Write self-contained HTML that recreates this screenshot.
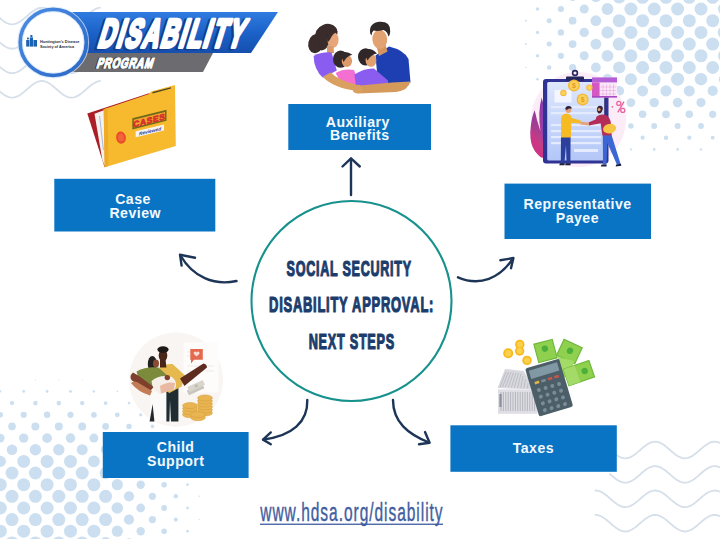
<!DOCTYPE html>
<html><head><meta charset="utf-8"><title>Disability Program - Next Steps</title>
<style>
html,body{margin:0;padding:0;background:#fff;}
body{width:720px;height:539px;overflow:hidden;font-family:"Liberation Sans",sans-serif;}
svg{display:block}
</style></head><body>
<svg width="720" height="539" viewBox="0 0 720 539">
<rect width="720" height="539" fill="#ffffff"/>
<g fill="none" stroke="#d6dfea" stroke-width="1.8" stroke-linecap="round">
<path d="M-2.0 16.5 L0.0 18.3 L2.0 19.9 L4.0 21.4 L6.0 22.6 L8.0 23.5 L10.0 24.1 L12.0 24.3 L14.0 24.1 L16.0 23.6 L18.0 22.8 L20.0 21.6 L22.0 20.2 L24.0 18.6 L26.0 16.9 L28.0 15.1 L30.0 13.4 L32.0 11.8 L34.0 10.4 L36.0 9.2 L38.0 8.4 L40.0 7.9 L42.0 7.7 L44.0 7.9 L46.0 8.5 L48.0 9.4 L50.0 10.6 L52.0 12.1 L54.0 13.7 L56.0 15.5 L58.0 17.2 L60.0 18.9 L62.0 20.5 L64.0 21.9 L66.0 23.0 L68.0 23.8 L70.0 24.2 L72.0 24.3 L74.0 24.0 L76.0 23.3 L78.0 22.3 L80.0 21.1 L82.0 19.6 L84.0 17.9 L86.0 16.2 L88.0 14.4 L90.0 12.7 L92.0 11.2 L94.0 9.9 L96.0 8.8 L98.0 8.1 L100.0 7.7"/>
<path d="M-2.0 40.9 L0.0 42.7 L2.0 44.3 L4.0 45.8 L6.0 47.0 L8.0 47.9 L10.0 48.5 L12.0 48.7 L14.0 48.5 L16.0 48.0 L18.0 47.2 L20.0 46.0 L22.0 44.6 L24.0 43.0 L26.0 41.3 L28.0 39.5 L30.0 37.8 L32.0 36.2 L34.0 34.8 L36.0 33.6 L38.0 32.8 L40.0 32.3 L42.0 32.1 L44.0 32.3 L46.0 32.9 L48.0 33.8 L50.0 35.0 L52.0 36.5 L54.0 38.1 L56.0 39.9 L58.0 41.6 L60.0 43.3 L62.0 44.9 L64.0 46.3 L66.0 47.4 L68.0 48.2 L70.0 48.6 L72.0 48.7 L74.0 48.4 L76.0 47.7 L78.0 46.7 L80.0 45.5 L82.0 44.0 L84.0 42.3 L86.0 40.6 L88.0 38.8 L90.0 37.1 L92.0 35.6 L94.0 34.3 L96.0 33.2 L98.0 32.5 L100.0 32.1"/>
<path d="M-2.0 65.4 L0.0 67.2 L2.0 68.8 L4.0 70.3 L6.0 71.5 L8.0 72.4 L10.0 73.0 L12.0 73.2 L14.0 73.0 L16.0 72.5 L18.0 71.7 L20.0 70.5 L22.0 69.1 L24.0 67.5 L26.0 65.8 L28.0 64.0 L30.0 62.3 L32.0 60.7 L34.0 59.3 L36.0 58.1 L38.0 57.3 L40.0 56.8 L42.0 56.6 L44.0 56.8 L46.0 57.4 L48.0 58.3 L50.0 59.5 L52.0 61.0 L54.0 62.6 L56.0 64.4 L58.0 66.1 L60.0 67.8 L62.0 69.4 L64.0 70.8 L66.0 71.9 L68.0 72.7 L70.0 73.1 L72.0 73.2 L74.0 72.9 L76.0 72.2 L78.0 71.2 L80.0 70.0 L82.0 68.5 L84.0 66.8 L86.0 65.1 L88.0 63.3 L90.0 61.6 L92.0 60.1 L94.0 58.8 L96.0 57.7 L98.0 57.0 L100.0 56.6"/>
<path d="M-2.0 89.8 L0.0 91.6 L2.0 93.2 L4.0 94.7 L6.0 95.9 L8.0 96.8 L10.0 97.4 L12.0 97.6 L14.0 97.4 L16.0 96.9 L18.0 96.1 L20.0 94.9 L22.0 93.5 L24.0 91.9 L26.0 90.2 L28.0 88.4 L30.0 86.7 L32.0 85.1 L34.0 83.7 L36.0 82.5 L38.0 81.7 L40.0 81.2 L42.0 81.0 L44.0 81.2 L46.0 81.8 L48.0 82.7 L50.0 83.9 L52.0 85.4 L54.0 87.0 L56.0 88.8 L58.0 90.5 L60.0 92.2 L62.0 93.8 L64.0 95.2 L66.0 96.3 L68.0 97.1 L70.0 97.5 L72.0 97.6 L74.0 97.3 L76.0 96.6 L78.0 95.6 L80.0 94.4 L82.0 92.9 L84.0 91.2 L86.0 89.5 L88.0 87.7 L90.0 86.0 L92.0 84.5 L94.0 83.2 L96.0 82.1 L98.0 81.4 L100.0 81.0"/>
<path d="M616.0 454.6 L618.0 456.0 L620.0 457.0 L622.0 457.8 L624.0 458.2 L626.0 458.3 L628.0 458.0 L630.0 457.3 L632.0 456.3 L634.0 455.0 L636.0 453.6 L638.0 451.9 L640.0 450.2 L642.0 448.4 L644.0 446.8 L646.0 445.2 L648.0 443.9 L650.0 442.9 L652.0 442.1 L654.0 441.8 L656.0 441.7 L658.0 442.1 L660.0 442.8 L662.0 443.8 L664.0 445.1 L666.0 446.6 L668.0 448.3 L670.0 450.0 L672.0 451.7 L674.0 453.4 L676.0 454.9 L678.0 456.2 L680.0 457.2 L682.0 457.9 L684.0 458.3 L686.0 458.2 L688.0 457.9 L690.0 457.1 L692.0 456.1 L694.0 454.8 L696.0 453.2 L698.0 451.6 L700.0 449.8 L702.0 448.1 L704.0 446.4 L706.0 445.0 L708.0 443.7 L710.0 442.7 L712.0 442.0 L714.0 441.7 L716.0 441.8 L718.0 442.2 L720.0 443.0 L722.0 444.0"/>
<path d="M610.0 474.1 L612.0 475.8 L614.0 477.5 L616.0 479.0 L618.0 480.4 L620.0 481.4 L622.0 482.2 L624.0 482.6 L626.0 482.7 L628.0 482.4 L630.0 481.7 L632.0 480.7 L634.0 479.4 L636.0 478.0 L638.0 476.3 L640.0 474.6 L642.0 472.8 L644.0 471.2 L646.0 469.6 L648.0 468.3 L650.0 467.3 L652.0 466.5 L654.0 466.2 L656.0 466.1 L658.0 466.5 L660.0 467.2 L662.0 468.2 L664.0 469.5 L666.0 471.0 L668.0 472.7 L670.0 474.4 L672.0 476.1 L674.0 477.8 L676.0 479.3 L678.0 480.6 L680.0 481.6 L682.0 482.3 L684.0 482.7 L686.0 482.6 L688.0 482.3 L690.0 481.5 L692.0 480.5 L694.0 479.2 L696.0 477.6 L698.0 476.0 L700.0 474.2 L702.0 472.5 L704.0 470.8 L706.0 469.4 L708.0 468.1 L710.0 467.1 L712.0 466.4 L714.0 466.1 L716.0 466.2 L718.0 466.6 L720.0 467.4 L722.0 468.4"/>
<path d="M595.5 490.5 L597.5 490.7 L599.5 491.2 L601.5 492.1 L603.5 493.3 L605.5 494.7 L607.5 496.3 L609.5 498.0 L611.5 499.8 L613.5 501.5 L615.5 503.1 L617.5 504.4 L619.5 505.6 L621.5 506.4 L623.5 507.0 L625.5 507.1 L627.5 506.9 L629.5 506.3 L631.5 505.4 L633.5 504.2 L635.5 502.7 L637.5 501.1 L639.5 499.4 L641.5 497.7 L643.5 496.0 L645.5 494.4 L647.5 493.0 L649.5 491.9 L651.5 491.1 L653.5 490.6 L655.5 490.5 L657.5 490.8 L659.5 491.4 L661.5 492.3 L663.5 493.5 L665.5 495.0 L667.5 496.6 L669.5 498.4 L671.5 500.1 L673.5 501.8 L675.5 503.3 L677.5 504.7 L679.5 505.8 L681.5 506.6 L683.5 507.0 L685.5 507.1 L687.5 506.8 L689.5 506.1 L691.5 505.2 L693.5 503.9 L695.5 502.4 L697.5 500.8 L699.5 499.1 L701.5 497.3 L703.5 495.6 L705.5 494.1 L707.5 492.8 L709.5 491.7 L711.5 491.0 L713.5 490.6 L715.5 490.5 L717.5 490.9 L719.5 491.5 L721.5 492.5"/>
<path d="M595.5 514.9 L597.5 515.1 L599.5 515.6 L601.5 516.5 L603.5 517.7 L605.5 519.1 L607.5 520.7 L609.5 522.4 L611.5 524.2 L613.5 525.9 L615.5 527.5 L617.5 528.8 L619.5 530.0 L621.5 530.8 L623.5 531.4 L625.5 531.5 L627.5 531.3 L629.5 530.7 L631.5 529.8 L633.5 528.6 L635.5 527.1 L637.5 525.5 L639.5 523.8 L641.5 522.1 L643.5 520.4 L645.5 518.8 L647.5 517.4 L649.5 516.3 L651.5 515.5 L653.5 515.0 L655.5 514.9 L657.5 515.2 L659.5 515.8 L661.5 516.7 L663.5 517.9 L665.5 519.4 L667.5 521.0 L669.5 522.8 L671.5 524.5 L673.5 526.2 L675.5 527.7 L677.5 529.1 L679.5 530.2 L681.5 531.0 L683.5 531.4 L685.5 531.5 L687.5 531.2 L689.5 530.5 L691.5 529.6 L693.5 528.3 L695.5 526.8 L697.5 525.2 L699.5 523.5 L701.5 521.7 L703.5 520.0 L705.5 518.5 L707.5 517.2 L709.5 516.1 L711.5 515.4 L713.5 515.0 L715.5 514.9 L717.5 515.3 L719.5 515.9 L721.5 516.9"/>
</g>
<g fill="#cbdff0">
<circle cx="525.9" cy="-2.7" r="0.8"/>
<circle cx="549.2" cy="-2.7" r="2.2"/>
<circle cx="572.6" cy="-2.7" r="3.6"/>
<circle cx="595.9" cy="-2.7" r="5.0"/>
<circle cx="619.2" cy="-2.7" r="6.2"/>
<circle cx="642.6" cy="-2.7" r="6.5"/>
<circle cx="666.0" cy="-2.7" r="6.5"/>
<circle cx="689.3" cy="-2.7" r="6.5"/>
<circle cx="712.7" cy="-2.7" r="6.5"/>
<circle cx="537.5" cy="9.0" r="1.7"/>
<circle cx="560.9" cy="9.0" r="3.1"/>
<circle cx="584.2" cy="9.0" r="4.5"/>
<circle cx="607.5" cy="9.0" r="5.9"/>
<circle cx="630.9" cy="9.0" r="6.5"/>
<circle cx="654.2" cy="9.0" r="6.5"/>
<circle cx="677.6" cy="9.0" r="6.5"/>
<circle cx="701.0" cy="9.0" r="6.5"/>
<circle cx="724.3" cy="9.0" r="6.3"/>
<circle cx="525.9" cy="20.7" r="1.0"/>
<circle cx="549.2" cy="20.7" r="2.5"/>
<circle cx="572.6" cy="20.7" r="3.9"/>
<circle cx="595.9" cy="20.7" r="5.4"/>
<circle cx="619.2" cy="20.7" r="6.5"/>
<circle cx="642.6" cy="20.7" r="6.5"/>
<circle cx="666.0" cy="20.7" r="6.5"/>
<circle cx="689.3" cy="20.7" r="6.5"/>
<circle cx="712.7" cy="20.7" r="6.5"/>
<circle cx="537.5" cy="32.4" r="1.7"/>
<circle cx="560.9" cy="32.4" r="3.2"/>
<circle cx="584.2" cy="32.4" r="4.7"/>
<circle cx="607.5" cy="32.4" r="6.1"/>
<circle cx="630.9" cy="32.4" r="6.5"/>
<circle cx="654.2" cy="32.4" r="6.5"/>
<circle cx="677.6" cy="32.4" r="6.5"/>
<circle cx="701.0" cy="32.4" r="6.5"/>
<circle cx="724.3" cy="32.4" r="6.5"/>
<circle cx="525.9" cy="44.1" r="1.0"/>
<circle cx="549.2" cy="44.1" r="2.5"/>
<circle cx="572.6" cy="44.1" r="3.9"/>
<circle cx="595.9" cy="44.1" r="5.4"/>
<circle cx="619.2" cy="44.1" r="6.5"/>
<circle cx="642.6" cy="44.1" r="6.5"/>
<circle cx="666.0" cy="44.1" r="6.5"/>
<circle cx="689.3" cy="44.1" r="6.5"/>
<circle cx="712.7" cy="44.1" r="6.5"/>
<circle cx="537.5" cy="55.8" r="1.7"/>
<circle cx="560.9" cy="55.8" r="3.1"/>
<circle cx="584.2" cy="55.8" r="4.5"/>
<circle cx="607.5" cy="55.8" r="5.9"/>
<circle cx="630.9" cy="55.8" r="6.5"/>
<circle cx="654.2" cy="55.8" r="6.5"/>
<circle cx="677.6" cy="55.8" r="6.5"/>
<circle cx="701.0" cy="55.8" r="6.5"/>
<circle cx="724.3" cy="55.8" r="6.3"/>
<circle cx="525.9" cy="67.5" r="0.8"/>
<circle cx="549.2" cy="67.5" r="2.2"/>
<circle cx="572.6" cy="67.5" r="3.6"/>
<circle cx="595.9" cy="67.5" r="4.9"/>
<circle cx="619.2" cy="67.5" r="6.1"/>
<circle cx="642.6" cy="67.5" r="6.5"/>
<circle cx="666.0" cy="67.5" r="6.5"/>
<circle cx="689.3" cy="67.5" r="6.5"/>
<circle cx="712.7" cy="67.5" r="6.4"/>
<circle cx="537.5" cy="79.2" r="1.3"/>
<circle cx="560.9" cy="79.2" r="2.7"/>
<circle cx="584.2" cy="79.2" r="3.9"/>
<circle cx="607.5" cy="79.2" r="5.1"/>
<circle cx="630.9" cy="79.2" r="6.0"/>
<circle cx="654.2" cy="79.2" r="6.4"/>
<circle cx="677.6" cy="79.2" r="6.5"/>
<circle cx="701.0" cy="79.2" r="6.2"/>
<circle cx="724.3" cy="79.2" r="5.4"/>
<circle cx="549.2" cy="90.9" r="1.7"/>
<circle cx="572.6" cy="90.9" r="2.9"/>
<circle cx="595.9" cy="90.9" r="4.0"/>
<circle cx="619.2" cy="90.9" r="4.9"/>
<circle cx="642.6" cy="90.9" r="5.5"/>
<circle cx="666.0" cy="90.9" r="5.6"/>
<circle cx="689.3" cy="90.9" r="5.5"/>
<circle cx="712.7" cy="90.9" r="5.1"/>
<circle cx="537.5" cy="102.6" r="0.7"/>
<circle cx="560.9" cy="102.6" r="1.9"/>
<circle cx="584.2" cy="102.6" r="3.0"/>
<circle cx="607.5" cy="102.6" r="3.8"/>
<circle cx="630.9" cy="102.6" r="4.4"/>
<circle cx="654.2" cy="102.6" r="4.7"/>
<circle cx="677.6" cy="102.6" r="4.8"/>
<circle cx="701.0" cy="102.6" r="4.6"/>
<circle cx="724.3" cy="102.6" r="4.1"/>
<circle cx="549.2" cy="114.3" r="0.8"/>
<circle cx="572.6" cy="114.3" r="1.9"/>
<circle cx="595.9" cy="114.3" r="2.8"/>
<circle cx="619.2" cy="114.3" r="3.4"/>
<circle cx="642.6" cy="114.3" r="3.8"/>
<circle cx="666.0" cy="114.3" r="3.9"/>
<circle cx="689.3" cy="114.3" r="3.8"/>
<circle cx="712.7" cy="114.3" r="3.6"/>
<circle cx="560.9" cy="126.0" r="0.8"/>
<circle cx="584.2" cy="126.0" r="1.7"/>
<circle cx="607.5" cy="126.0" r="2.4"/>
<circle cx="630.9" cy="126.0" r="2.8"/>
<circle cx="654.2" cy="126.0" r="3.0"/>
<circle cx="677.6" cy="126.0" r="3.0"/>
<circle cx="701.0" cy="126.0" r="2.9"/>
<circle cx="724.3" cy="126.0" r="2.5"/>
<circle cx="572.6" cy="137.7" r="0.6"/>
<circle cx="595.9" cy="137.7" r="1.3"/>
<circle cx="619.2" cy="137.7" r="1.8"/>
<circle cx="642.6" cy="137.7" r="2.1"/>
<circle cx="666.0" cy="137.7" r="2.2"/>
<circle cx="689.3" cy="137.7" r="2.1"/>
<circle cx="712.7" cy="137.7" r="1.9"/>
<circle cx="607.5" cy="149.4" r="0.8"/>
<circle cx="630.9" cy="149.4" r="1.1"/>
<circle cx="654.2" cy="149.4" r="1.3"/>
<circle cx="677.6" cy="149.4" r="1.3"/>
<circle cx="701.0" cy="149.4" r="1.2"/>
<circle cx="724.3" cy="149.4" r="0.9"/>
<circle cx="35.4" cy="379.8" r="0.6"/>
<circle cx="58.8" cy="379.8" r="0.6"/>
<circle cx="82.2" cy="379.8" r="0.5"/>
<circle cx="-23.1" cy="391.4" r="0.7"/>
<circle cx="0.3" cy="391.4" r="1.1"/>
<circle cx="23.7" cy="391.4" r="1.4"/>
<circle cx="47.1" cy="391.4" r="1.4"/>
<circle cx="70.5" cy="391.4" r="1.4"/>
<circle cx="93.9" cy="391.4" r="1.2"/>
<circle cx="117.3" cy="391.4" r="0.8"/>
<circle cx="-11.4" cy="403.1" r="1.7"/>
<circle cx="12.0" cy="403.1" r="2.1"/>
<circle cx="35.4" cy="403.1" r="2.3"/>
<circle cx="58.8" cy="403.1" r="2.3"/>
<circle cx="82.2" cy="403.1" r="2.2"/>
<circle cx="105.6" cy="403.1" r="1.9"/>
<circle cx="129.0" cy="403.1" r="1.3"/>
<circle cx="152.4" cy="403.1" r="0.6"/>
<circle cx="-23.1" cy="414.8" r="2.2"/>
<circle cx="0.3" cy="414.8" r="2.7"/>
<circle cx="23.7" cy="414.8" r="3.1"/>
<circle cx="47.1" cy="414.8" r="3.2"/>
<circle cx="70.5" cy="414.8" r="3.1"/>
<circle cx="93.9" cy="414.8" r="2.9"/>
<circle cx="117.3" cy="414.8" r="2.4"/>
<circle cx="140.7" cy="414.8" r="1.6"/>
<circle cx="164.1" cy="414.8" r="0.7"/>
<circle cx="-11.4" cy="426.4" r="3.2"/>
<circle cx="12.0" cy="426.4" r="3.8"/>
<circle cx="35.4" cy="426.4" r="4.0"/>
<circle cx="58.8" cy="426.4" r="4.0"/>
<circle cx="82.2" cy="426.4" r="3.9"/>
<circle cx="105.6" cy="426.4" r="3.4"/>
<circle cx="129.0" cy="426.4" r="2.7"/>
<circle cx="152.4" cy="426.4" r="1.8"/>
<circle cx="175.8" cy="426.4" r="0.7"/>
<circle cx="-23.1" cy="438.1" r="3.5"/>
<circle cx="0.3" cy="438.1" r="4.3"/>
<circle cx="23.7" cy="438.1" r="4.7"/>
<circle cx="47.1" cy="438.1" r="4.9"/>
<circle cx="70.5" cy="438.1" r="4.8"/>
<circle cx="93.9" cy="438.1" r="4.5"/>
<circle cx="117.3" cy="438.1" r="3.8"/>
<circle cx="140.7" cy="438.1" r="2.8"/>
<circle cx="164.1" cy="438.1" r="1.7"/>
<circle cx="187.5" cy="438.1" r="0.5"/>
<circle cx="-11.4" cy="449.7" r="4.6"/>
<circle cx="12.0" cy="449.7" r="5.3"/>
<circle cx="35.4" cy="449.7" r="5.7"/>
<circle cx="58.8" cy="449.7" r="5.7"/>
<circle cx="82.2" cy="449.7" r="5.5"/>
<circle cx="105.6" cy="449.7" r="4.8"/>
<circle cx="129.0" cy="449.7" r="3.9"/>
<circle cx="152.4" cy="449.7" r="2.7"/>
<circle cx="175.8" cy="449.7" r="1.5"/>
<circle cx="-23.1" cy="461.4" r="4.6"/>
<circle cx="0.3" cy="461.4" r="5.6"/>
<circle cx="23.7" cy="461.4" r="6.4"/>
<circle cx="47.1" cy="461.4" r="6.5"/>
<circle cx="70.5" cy="461.4" r="6.5"/>
<circle cx="93.9" cy="461.4" r="5.9"/>
<circle cx="117.3" cy="461.4" r="4.9"/>
<circle cx="140.7" cy="461.4" r="3.7"/>
<circle cx="164.1" cy="461.4" r="2.4"/>
<circle cx="187.5" cy="461.4" r="1.1"/>
<circle cx="-11.4" cy="473.0" r="5.6"/>
<circle cx="12.0" cy="473.0" r="6.5"/>
<circle cx="35.4" cy="473.0" r="6.5"/>
<circle cx="58.8" cy="473.0" r="6.5"/>
<circle cx="82.2" cy="473.0" r="6.5"/>
<circle cx="105.6" cy="473.0" r="6.0"/>
<circle cx="129.0" cy="473.0" r="4.7"/>
<circle cx="152.4" cy="473.0" r="3.4"/>
<circle cx="175.8" cy="473.0" r="2.0"/>
<circle cx="199.2" cy="473.0" r="0.5"/>
<circle cx="-23.1" cy="484.7" r="5.2"/>
<circle cx="0.3" cy="484.7" r="6.5"/>
<circle cx="23.7" cy="484.7" r="6.5"/>
<circle cx="47.1" cy="484.7" r="6.5"/>
<circle cx="70.5" cy="484.7" r="6.5"/>
<circle cx="93.9" cy="484.7" r="6.5"/>
<circle cx="117.3" cy="484.7" r="5.6"/>
<circle cx="140.7" cy="484.7" r="4.2"/>
<circle cx="164.1" cy="484.7" r="2.8"/>
<circle cx="187.5" cy="484.7" r="1.4"/>
<circle cx="-11.4" cy="496.3" r="6.1"/>
<circle cx="12.0" cy="496.3" r="6.5"/>
<circle cx="35.4" cy="496.3" r="6.5"/>
<circle cx="58.8" cy="496.3" r="6.5"/>
<circle cx="82.2" cy="496.3" r="6.5"/>
<circle cx="105.6" cy="496.3" r="6.5"/>
<circle cx="129.0" cy="496.3" r="5.1"/>
<circle cx="152.4" cy="496.3" r="3.6"/>
<circle cx="175.8" cy="496.3" r="2.2"/>
<circle cx="199.2" cy="496.3" r="0.7"/>
<circle cx="-23.1" cy="508.0" r="5.4"/>
<circle cx="0.3" cy="508.0" r="6.5"/>
<circle cx="23.7" cy="508.0" r="6.5"/>
<circle cx="47.1" cy="508.0" r="6.5"/>
<circle cx="70.5" cy="508.0" r="6.5"/>
<circle cx="93.9" cy="508.0" r="6.5"/>
<circle cx="117.3" cy="508.0" r="5.8"/>
<circle cx="140.7" cy="508.0" r="4.4"/>
<circle cx="164.1" cy="508.0" r="2.9"/>
<circle cx="187.5" cy="508.0" r="1.4"/>
<circle cx="-11.4" cy="519.6" r="6.1"/>
<circle cx="12.0" cy="519.6" r="6.5"/>
<circle cx="35.4" cy="519.6" r="6.5"/>
<circle cx="58.8" cy="519.6" r="6.5"/>
<circle cx="82.2" cy="519.6" r="6.5"/>
<circle cx="105.6" cy="519.6" r="6.5"/>
<circle cx="129.0" cy="519.6" r="5.1"/>
<circle cx="152.4" cy="519.6" r="3.6"/>
<circle cx="175.8" cy="519.6" r="2.1"/>
<circle cx="199.2" cy="519.6" r="0.7"/>
<circle cx="-23.1" cy="531.2" r="5.2"/>
<circle cx="0.3" cy="531.2" r="6.5"/>
<circle cx="23.7" cy="531.2" r="6.5"/>
<circle cx="47.1" cy="531.2" r="6.5"/>
<circle cx="70.5" cy="531.2" r="6.5"/>
<circle cx="93.9" cy="531.2" r="6.5"/>
<circle cx="117.3" cy="531.2" r="5.6"/>
<circle cx="140.7" cy="531.2" r="4.2"/>
<circle cx="164.1" cy="531.2" r="2.8"/>
<circle cx="187.5" cy="531.2" r="1.4"/>
<circle cx="-11.4" cy="542.9" r="5.5"/>
<circle cx="12.0" cy="542.9" r="6.5"/>
<circle cx="35.4" cy="542.9" r="6.5"/>
<circle cx="58.8" cy="542.9" r="6.5"/>
<circle cx="82.2" cy="542.9" r="6.5"/>
<circle cx="105.6" cy="542.9" r="5.9"/>
<circle cx="129.0" cy="542.9" r="4.7"/>
<circle cx="152.4" cy="542.9" r="3.3"/>
<circle cx="175.8" cy="542.9" r="1.9"/>
<circle cx="199.2" cy="542.9" r="0.5"/>
</g>
<!-- ===== header banner ===== -->
<defs>
  <linearGradient id="banG" x1="0" y1="0" x2="0" y2="1">
    <stop offset="0" stop-color="#2f7be0"/><stop offset="0.55" stop-color="#1a60c6"/><stop offset="1" stop-color="#164fae"/>
  </linearGradient>
  <linearGradient id="ringG" x1="0" y1="0" x2="1" y2="1">
    <stop offset="0" stop-color="#4a8ce2"/><stop offset="1" stop-color="#2a68c8"/>
  </linearGradient>
</defs>
<polygon points="60,12 278,12 251,53 60,53" fill="url(#banG)"/>
<polygon points="60,53 213,53 203,72 60,72" fill="#6b6b70"/>
<g font-family="Liberation Sans, sans-serif" font-weight="bold" stroke-linejoin="round">
  <g transform="translate(96.8 46.6) skewX(-17) scale(0.578 1)" font-size="39.5" letter-spacing="3.4">
    <text x="-3" y="1.8" fill="#143c8c" stroke="#143c8c" stroke-width="3.8" vector-effect="non-scaling-stroke">DISABILITY</text>
    <text x="0" y="0" fill="#fff" stroke="#fff" stroke-width="3.4" vector-effect="non-scaling-stroke">DISABILITY</text>
  </g>
  <g transform="translate(96 67.6) skewX(-17) scale(0.69 1)" font-size="14.4" letter-spacing="1">
    <text x="-1.2" y="0.8" fill="#3a3a3e" stroke="#3a3a3e" stroke-width="1.5" vector-effect="non-scaling-stroke">PROGRAM</text>
    <text x="0" y="0" fill="#fff" stroke="#fff" stroke-width="1.2" vector-effect="non-scaling-stroke">PROGRAM</text>
  </g>
</g>
<circle cx="53.2" cy="42.4" r="35.3" fill="none" stroke="#d5e4f6" stroke-width="1.4" opacity="0.7"/>
<circle cx="53.2" cy="42.4" r="33" fill="#fff" stroke="url(#ringG)" stroke-width="3.7"/>
<circle cx="53.2" cy="42.4" r="30.8" fill="none" stroke="#a8cbf2" stroke-width="0.8" opacity="0.6"/>
<!-- logo -->
<g fill="#1b62b3">
  <rect x="26.2" y="40" width="3.2" height="6.6"/>
  <rect x="29.8" y="37.4" width="3.2" height="9.2"/>
  <rect x="33.4" y="40" width="3.6" height="6.6"/>
  <rect x="30.4" y="35" width="2" height="2"/>
  <rect x="27" y="37.6" width="1.8" height="1.8"/>
</g>
<g font-family="Liberation Sans, sans-serif" font-weight="bold" fill="#2a2a33" font-size="4.3">
  <text x="40" y="43.2" textLength="39.5" lengthAdjust="spacingAndGlyphs">Huntington's Disease</text>
  <text x="40" y="47.8" textLength="34" lengthAdjust="spacingAndGlyphs">Society of America</text>
</g>

<!-- ===== Case Review: folder ===== -->
<g>
  <polygon points="87.3,113.6 149,93.2 151,94.4 104.6,167.2" fill="#ab1d27"/>
  <polygon points="94.5,113.8 104.5,110 105,166 102.4,160.5" fill="#f4f1ee"/>
  <path d="M99.6 116 L103.4 150" stroke="#8aa0d8" stroke-width="0.7" fill="none"/>
  <polygon points="103.7,109.2 149.2,94 151,91.4 175,85 175.8,146 104.7,167.2" fill="#f7ba2f"/>
  <polygon points="103.7,109.2 107.6,107.9 108.4,166.1 104.7,167.2" fill="#eeab28"/>
  <!-- tab text -->
  <polygon points="152.5,92 171,87.2 171,88.6 152.5,93.4" fill="#4a4326"/>
  <!-- CASES label -->
  <polygon points="132.3,118.3 166.5,109.7 166.5,120.8 132.3,129.4" fill="#6f6a1c"/>
  <polygon points="133.8,119.8 165,112 165,119.6 133.8,127.4" fill="#f5a22c"/>
  <g transform="translate(149.4 123) skewY(-14.1)" font-family="Liberation Sans, sans-serif" font-weight="bold" font-size="8.4" fill="#d3312b" stroke="#d3312b" stroke-width="0.7" text-anchor="middle">
    <text y="0.3" transform="scale(1.0 1)" letter-spacing="0.7">CASES</text>
  </g>
  <!-- reviewed label -->
  <polygon points="135.7,131.3 164,124.6 164,130.6 135.7,137.3" fill="#f7f4f0"/>
  <g transform="translate(150 132.8) skewY(-13.3)" font-family="Liberation Sans, sans-serif" font-weight="bold" font-style="italic" font-size="4.8" fill="#2b3a9c" text-anchor="middle">
    <text>Reviewed</text>
  </g>
  <ellipse cx="121" cy="137.6" rx="4.9" ry="6.1" fill="#ea4b2a" transform="rotate(-10 121 137.6)"/>
  <ellipse cx="121" cy="137.6" rx="3" ry="4" fill="#f0653a" transform="rotate(-10 121 137.6)"/>
</g>

<!-- ===== Auxiliary Benefits: family ===== -->
<g>
  <!-- father -->
  <path d="M375.5 55.5 L389 46.5 Q404 50 408.5 59 L410.5 82.5 L388 86 L377 72 Z" fill="#1d3fb2"/>
  <path d="M376.5 46 L385.5 45 L387.5 51.5 L379 56 Z" fill="#d6955f"/>
  <ellipse cx="379.8" cy="39.4" rx="7.4" ry="9.6" fill="#e2a271" transform="rotate(-6 379.8 39.4)"/>
  <path d="M370.2 33.5 Q368.5 23.5 379 21.8 Q390.5 21 390.2 31 Q390 35.5 388.4 36.6 Q387.6 31.5 383.5 30 Q377 31.8 373.6 30.6 Q371.6 32 371.6 35.6 Z" fill="#2f2928"/>
  <!-- mother -->
  <ellipse cx="315.8" cy="43.6" rx="7.5" ry="9.6" fill="#3a2c2b" transform="rotate(12 315.8 43.6)"/>
  <ellipse cx="326.4" cy="33.6" rx="11.4" ry="9.4" fill="#3a2c2b" transform="rotate(-22 326.4 33.6)"/>
  <path d="M318 38 L329 36 L328.6 45 Q326 50 321 50.6 Z" fill="#3a2c2b"/>
  <ellipse cx="333" cy="39.8" rx="5.6" ry="8" fill="#e7a579"/>
  <path d="M326 31.6 Q332 29.6 338 31.2 Q333.6 33.2 331.6 36.6 Q329.6 41 327.6 42.6 Z" fill="#3a2c2b"/>
  <path d="M327 45.6 L333.6 46.6 L334 53 L327 54 Z" fill="#dc9a6c"/>
  <path d="M313.6 56 Q320 52 331.6 52.4 L336.8 70.4 L323 77.8 Q314 70 313.6 56 Z" fill="#8b5cf0"/>
  <!-- kids' shirts (extended down to the arms) -->
  <path d="M335.6 73 Q344 68.4 354 70 L360 86 L343 86.6 Z" fill="#f46fd2"/>
  <path d="M354.4 74.4 Q364 68 374 68.4 L388 80.4 L388 86.4 L356 87 Z" fill="#8b5cf0"/>
  <!-- girl -->
  <ellipse cx="340.6" cy="59.2" rx="7.6" ry="8.6" fill="#33282a"/>
  <ellipse cx="346.9" cy="61" rx="5.2" ry="6" fill="#dd9a6a"/>
  <path d="M340 53.5 Q346 50 352.4 54.8 Q346.4 56.4 343.6 62 Z" fill="#33282a"/>
  <!-- boy -->
  <ellipse cx="365.6" cy="56.8" rx="7.6" ry="8.6" fill="#2f2729"/>
  <ellipse cx="371" cy="60.4" rx="5.4" ry="6.4" fill="#e0a070"/>
  <path d="M362.6 51 Q370 46 377 53.4 Q371 54.4 367.6 60.4 Z" fill="#2f2729"/>
  <!-- arms -->
  <path d="M322.6 76.8 L330.8 72.4 Q338 80 356 84.6 L356.6 90.8 Q334 88.4 322.6 76.8 Z" fill="#d9a05f"/>
  <path d="M410.4 81.6 Q408.4 90.4 396 92 L358 93.6 Q352 93.2 353 88 Q354 84.4 360 85.4 L392 82.6 Z" fill="#d39a5c"/>
  <ellipse cx="357.6" cy="89" rx="5" ry="4.3" fill="#d9a05f"/>
</g>

<!-- ===== Representative Payee: clipboard ===== -->
<defs>
  <linearGradient id="clipG" x1="0" y1="0" x2="0" y2="1"><stop offset="0" stop-color="#dde7fd"/><stop offset="1" stop-color="#b3c6f7"/></linearGradient>
  <linearGradient id="leafG" x1="0" y1="0" x2="0" y2="1"><stop offset="0" stop-color="#7a3aa8"/><stop offset="1" stop-color="#d8407c"/></linearGradient>
</defs>
<g>
  <circle cx="578.5" cy="119.5" r="47.5" fill="#fcecf8"/>
  <path d="M545 158.5 Q527.5 152 530.8 126 Q532 116 534.7 110.3 Q536.6 120 540.4 131 Q537.6 112 541.7 97.6 Q548.6 122 547 158.5 Z" fill="url(#leafG)"/>
  <path d="M541 157.6 Q529.6 149 531 128.6 Q538.6 140 544.6 157.6 Z" fill="#cc3585"/>
  <path d="M541.9 101 Q540 125 544.4 152 Q546.4 125 541.9 101 Z" fill="#8d3fb4"/>
  <rect x="543" y="79" width="65.5" height="84.6" rx="3" fill="#2f3394"/>
  <rect x="547.2" y="82" width="58.6" height="78.6" rx="1.5" fill="url(#clipG)"/>
  <rect x="554.5" y="90" width="17" height="12.5" fill="#f4f6ff"/>
  <g fill="#e4ebff">
    <rect x="551" y="106" width="50" height="2.2"/><rect x="551" y="112" width="50" height="2.2"/>
    <rect x="551" y="124" width="50" height="2.2"/><rect x="551" y="130" width="50" height="2.2"/>
    <rect x="551" y="136" width="50" height="2.2"/><rect x="551" y="142" width="50" height="2.2"/>
    <rect x="574" y="149" width="24" height="3"/>
  </g>
  <!-- clip -->
  <rect x="566" y="76.5" width="18" height="4.2" rx="1" fill="#23265f"/>
  <circle cx="575" cy="73" r="2.4" fill="none" stroke="#23265f" stroke-width="1.6"/>
  <!-- calendar -->
  <rect x="604.2" y="96" width="1.8" height="20" fill="#3a2f6a"/>
  <rect x="592" y="77.4" width="25" height="20" fill="#fbeaf8"/>
  <rect x="592" y="77.4" width="25" height="5" fill="#b45fd6"/>
  <rect x="592" y="82.4" width="7.6" height="15" fill="#d457c4"/>
  <g stroke="#e9a6e0" stroke-width="0.6"><path d="M603 84 V96 M606.5 84 V96 M610 84 V96 M613.5 84 V96 M600 87 H616 M600 90.5 H616 M600 94 H616"/></g>
  <rect x="592" y="96" width="25" height="1.6" fill="#a64ac2"/>
  <!-- percent -->
  <g fill="none" stroke="#e8649c" stroke-width="1.3"><circle cx="618.8" cy="103.4" r="2"/><circle cx="622.8" cy="110.4" r="2"/><path d="M624 101.6 L617.8 112.4"/></g><circle cx="612.4" cy="106.8" r="0.9" fill="#e8649c"/>
  <!-- coins -->
  <g>
    <circle cx="574" cy="85.6" r="6" fill="#f3b73a"/><circle cx="574" cy="85.6" r="4.6" fill="#f9d25c"/>
    <circle cx="582.6" cy="99.4" r="6" fill="#f3b73a"/><circle cx="582.6" cy="99.4" r="4.6" fill="#f9d25c"/>
    <circle cx="563.4" cy="93" r="3.2" fill="#f3b73a"/><circle cx="563.4" cy="93" r="2.3" fill="#f9d25c"/>
    <circle cx="589.4" cy="87.6" r="3.2" fill="#f3b73a"/><circle cx="589.4" cy="87.6" r="2.3" fill="#f9d25c"/>
    <g font-family="Liberation Sans, sans-serif" font-weight="bold" font-size="7" fill="#e79a1f" text-anchor="middle"><text x="574" y="88.1">$</text><text x="582.6" y="101.9">$</text></g>
  </g>
  <!-- man left -->
  <path d="M561 136.6 L570.6 136.6 L570.4 163.4 L566.6 163.4 L566 145 L564.4 163.4 L560.8 163.4 Z" fill="#2b3f9e"/>
  <path d="M560 163.2 h4.6 v2 h-5.4 Z M565.8 163.2 h4.8 v2 h-5.6 Z" fill="#1d1f3f"/>
  <path d="M561.2 118 Q561.8 114 566.4 113.6 Q571 114 571.6 118 L580.8 120.6 L580.2 123.4 L571.4 122.8 L570.8 137.6 L561 137.6 Z" fill="#f6ba22"/>
  <circle cx="568.4" cy="110" r="2.9" fill="#e8a27a"/>
  <path d="M565.4 109.6 Q565 106.2 568.6 106 Q572 106.2 571.6 108.8 Q568.8 107.8 567.2 109.8 Z" fill="#2a2240"/>
  <!-- man right -->
  <path d="M602.8 134.6 L611.4 134.6 L620.6 164 L617 164.8 L607.4 143 L606.4 164.6 L603 164.6 Z" fill="#3c66d4"/>
  <path d="M601.6 164.4 h5 v2 h-5.8 Z M616.2 164.6 l4.6 -0.8 l0.6 2 l-5.8 0.8 Z" fill="#1d1f3f"/>
  <path d="M596.6 116.4 Q600.6 113.6 605 114.8 Q610.4 116.8 611 124 L611.6 135.6 L602.4 135.6 L600.6 123.2 L589 125.4 L588.4 122.6 L595.6 119.4 Z" fill="#b42c58"/>
  <path d="M580 121.4 L588.6 122.4 L589 125.4 L580.4 124.4 Z" fill="#e6a47c"/>
  <ellipse cx="609.6" cy="128.6" rx="6.6" ry="4.7" fill="#f7c544" transform="rotate(-12 609.6 128.6)"/>
  <circle cx="599.6" cy="109.8" r="2.8" fill="#e8a27a"/>
  <path d="M597 110 Q596.6 106 600 105.8 Q603.2 106 602.8 109 L601.8 111.6 Q601 113.8 598.6 113.4 Q597 112.6 597 110 Z" fill="#3a2334"/>
  <circle cx="599.1" cy="109.5" r="1.5" fill="#e8a27a"/>
</g>

<!-- ===== Child Support ===== -->
<g>
  <circle cx="176" cy="379.5" r="47" fill="#f9f5f2"/>
  <rect x="183.5" y="342.5" width="35" height="50" fill="#fdfcfb"/>
  <g stroke="#efe9e6" stroke-width="1"><path d="M187 352 H198 M187 356 H196 M187 366 H214 M187 371 H214"/></g>
  <!-- speech bubble -->
  <path d="M190.3 349 H202.8 V359.8 H194 L191 363.4 V359.8 H190.3 Z" fill="#e4694f"/>
  <path d="M196.6 356.6 L193.9 353.9 Q193 352.4 194.5 351.7 Q195.8 351.3 196.6 352.6 Q197.4 351.3 198.7 351.7 Q200.2 352.4 199.3 353.9 Z" fill="#f8ddd6"/>
  <!-- bills -->
  <g transform="rotate(-25 196 389)"><rect x="187" y="386.4" width="17" height="5.4" fill="#c9c7bd"/><rect x="189" y="383.6" width="17" height="5.4" fill="#d8d6cc"/><circle cx="197.5" cy="386.3" r="1.6" fill="#bdbbb0"/></g>
  <!-- coins -->
  <g fill="#e9b552" stroke="#d79f3c" stroke-width="0.6">
    <ellipse cx="190" cy="414.6" rx="7.4" ry="3"/><ellipse cx="190" cy="411.6" rx="7.4" ry="3"/><ellipse cx="190" cy="408.6" rx="7.4" ry="3"/><ellipse cx="190" cy="405.6" rx="7.4" ry="3"/>
    <ellipse cx="205" cy="413" rx="7.4" ry="3"/><ellipse cx="205" cy="410" rx="7.4" ry="3"/><ellipse cx="205" cy="407" rx="7.4" ry="3"/><ellipse cx="205" cy="404" rx="7.4" ry="3"/><ellipse cx="205" cy="401" rx="7.4" ry="3"/><ellipse cx="205" cy="398" rx="7.4" ry="3"/>
    <ellipse cx="198" cy="417.6" rx="7.4" ry="3"/><ellipse cx="198" cy="414.6" rx="7.4" ry="3"/>
  </g>
  <!-- legs -->
  <path d="M150.5 392 L166 392 L165.4 421.4 L149.4 421.4 Z" fill="#fbfaf8"/>
  <path d="M152.6 404 L154.4 421.4 L149.6 421.4 Z" fill="#23282c"/>
  <path d="M166.4 390 L178.4 388 L178.4 421.4 L171 421.4 L170 400 L169.4 421.4 L166.4 421.4 Z" fill="#1f2d33"/>
  <!-- man -->
  <path d="M159.4 367 Q165 363.6 172.6 364.1 L185 375.6 L181.6 386.4 L169 393.2 L160.3 379 Z" fill="#e6b94e"/>
  <path d="M180 378.4 L203.4 363.4 Q206.8 364 207 367.4 L184.4 386 Z" fill="#5d2c1f"/>
  <path d="M160 360 L165.6 360 L166.4 367.6 L160 367.6 Z" fill="#4a2619"/>
  <ellipse cx="163" cy="355.6" rx="4.3" ry="6" fill="#4a2619"/>
  <ellipse cx="163" cy="349.6" rx="5.6" ry="3.4" fill="#1f1a1a"/>
  <!-- woman -->
  <ellipse cx="152.3" cy="364" rx="4.5" ry="8" fill="#222021"/>
  <ellipse cx="156" cy="363.6" rx="3" ry="4" fill="#8a4b32"/>
  <path d="M136.5 371.4 Q147 366 158.5 367.6 L167.3 375.6 L153.2 388 L139.1 380 Z" fill="#7c8a3c"/>
  <path d="M133 372.6 Q129 376 131.4 380 L149 392.6 L153.6 387 L139 376 Z" fill="#7e3f2c"/>
  <!-- baby -->
  <path d="M151.5 381 Q160 374 172 377 Q178 382 175 389 L160 394 Q152 390 151.5 381 Z" fill="#f6efe9"/>
  <circle cx="167.3" cy="377.6" r="2.7" fill="#7e3f2c"/>
  <path d="M160 386 Q168 381 175 383 L174 389.6 L161 393.4 Z" fill="#e9b9a2"/>
  <path d="M131 383 Q133 380.6 137 382 L152 391 L150 395.4 Q138 392 131 383 Z" fill="#c27d56"/>
</g>

<!-- ===== Taxes ===== -->
<g>
  <!-- papers -->
  <polygon points="505,369 523.5,371 536,389.5 497.5,388" fill="#d8d8de"/>
  <g stroke="#a9a9b4" stroke-width="0.6"><path d="M506 372 L500 387 M508.5 372 L502.5 387 M511 372.4 L505.4 387 M513.5 372.6 L508.4 387 M516 372.8 L511.4 387.4 M518.5 373 L514.4 387.6 M521 373.6 L517.6 387.8 M523 376 L520.8 388 M525.4 379 L524 388 M528 383 L527.4 388.4"/></g>
  <rect x="498" y="389.4" width="39.4" height="24.4" fill="#dedee4"/>
  <g stroke="#a3a3ae" stroke-width="0.7"><path d="M501 392 V411 M503.4 392 V411 M505.8 392 V411 M508.2 392 V411 M510.6 392 V411 M513 392 V411 M515.4 392 V411 M517.8 392 V411 M520.2 392 V411 M522.6 392 V411 M525 392 V411 M527.4 392 V411 M529.8 392 V411 M532.2 392 V411 M534.6 392 V411"/></g>
  <rect x="499.4" y="394" width="2.2" height="13" fill="#8d8d99"/>
  <!-- bills -->
  <g transform="rotate(-15 545.5 351)"><rect x="536" y="341.5" width="19" height="19" fill="#8fd14f" stroke="#6fb83c" stroke-width="1.2"/><circle cx="545.5" cy="348.6" r="3.2" fill="#4caf3a"/></g>
  <g transform="rotate(25 569 351.5)"><rect x="559.4" y="342.6" width="20" height="17.6" fill="#8fd14f" stroke="#6fb83c" stroke-width="1.2"/><circle cx="569.6" cy="350.4" r="3.2" fill="#4caf3a"/></g>
  <polygon points="558,357 574,361 570,376 560,378" fill="#a3da68"/>
  <g transform="rotate(-19 579 373)"><rect x="565.4" y="364.4" width="27" height="17.4" fill="#8fd14f" stroke="#6fb83c" stroke-width="1.2"/><rect x="565.4" y="364.4" width="12" height="17.4" fill="#a3da68"/><circle cx="585" cy="373" r="3.2" fill="#4caf3a"/></g>
  <!-- coins -->
  <g fill="#f8b91f"><circle cx="508.2" cy="353.2" r="5"/><circle cx="519.8" cy="344.4" r="4.7"/><circle cx="519.6" cy="351" r="4.7"/><circle cx="527" cy="360.4" r="4.7"/></g>
  <g fill="#fbd04a"><circle cx="508.2" cy="353.2" r="3.2"/><circle cx="519.8" cy="344.4" r="3"/><circle cx="519.6" cy="351" r="3"/><circle cx="527" cy="360.4" r="3"/></g>
  <!-- calculator -->
  <g transform="rotate(-16.5 549 387.5)">
    <rect x="531.4" y="362.6" width="35.4" height="50" rx="2" fill="#4c5f68"/>
    <rect x="534.4" y="365.6" width="29.4" height="8.6" fill="#8199a4"/>
    <g fill="#7a8d96">
      <circle cx="538.6" cy="387" r="2"/><circle cx="545.6" cy="387" r="2"/><circle cx="552.6" cy="387" r="2"/><circle cx="559.6" cy="387" r="2"/>
      <circle cx="538.6" cy="394" r="2"/><circle cx="545.6" cy="394" r="2"/><circle cx="552.6" cy="394" r="2"/><circle cx="559.6" cy="394" r="2"/>
      <circle cx="538.6" cy="401" r="2"/><circle cx="545.6" cy="401" r="2"/><circle cx="552.6" cy="401" r="2"/><circle cx="559.6" cy="401" r="2"/>
      <circle cx="538.6" cy="408" r="2"/><circle cx="545.6" cy="408" r="2"/><circle cx="552.6" cy="408" r="2"/><circle cx="559.6" cy="408" r="2"/>
    </g>
    <rect x="536.6" y="378" width="4.6" height="2.6" fill="#e3b34a"/><rect x="543.4" y="378" width="4.6" height="2.6" fill="#7a8d96"/><rect x="550.2" y="378" width="4.6" height="2.6" fill="#c4584c"/><rect x="557" y="378" width="4.6" height="2.6" fill="#c4584c"/>
  </g>
</g>

<!-- ===== blue boxes ===== -->
<g fill="#0974c4">
  <rect x="54.3" y="178.8" width="161" height="52.7"/>
  <rect x="288.3" y="104" width="142.7" height="46"/>
  <rect x="504.5" y="183.6" width="146.5" height="55.4"/>
  <rect x="102.8" y="432" width="145.8" height="46"/>
  <rect x="450.4" y="425.3" width="166.4" height="46.5"/>
</g>
<g font-family="Liberation Sans, sans-serif" font-weight="bold" fill="#f4faff" font-size="14.1" text-anchor="middle" letter-spacing="0.5">
  <text x="133" y="203.8">Case</text>
  <text x="135.2" y="218">Review</text>
  <text x="357.8" y="126.5">Auxiliary</text>
  <text x="359.8" y="140.4">Benefits</text>
  <text x="577.6" y="208.8">Representative</text>
  <text x="577.4" y="222.6">Payee</text>
  <text x="175.6" y="451.6">Child</text>
  <text x="175.8" y="465.8">Support</text>
  <text x="533.4" y="453.2">Taxes</text>
</g>

<!-- ===== center circle ===== -->
<circle cx="351.5" cy="301" r="100" fill="#fff" stroke="#17918c" stroke-width="2.1"/>
<g font-family="Liberation Sans, sans-serif" font-weight="bold" fill="#1c3d6c" stroke="#1c3d6c" stroke-width="1" stroke-linejoin="round" font-size="22.4" text-anchor="middle" letter-spacing="1.3">
  <text transform="translate(349.2 275.9) scale(0.562 1)" vector-effect="non-scaling-stroke">SOCIAL SECURITY</text>
  <text transform="translate(351.6 312.2) scale(0.578 1)" vector-effect="non-scaling-stroke">DISABILITY APPROVAL:</text>
  <text transform="translate(351.8 348.5) scale(0.567 1)" vector-effect="non-scaling-stroke">NEXT STEPS</text>
</g>
<!-- ===== arrows ===== -->
<g fill="none" stroke="#1d3557" stroke-width="2.4" stroke-linecap="round" stroke-linejoin="round">
  <path d="M351 195 L351 159"/>
  <path d="M342.5 166.5 L351 158.3 L359.8 166.5"/>
  <path d="M236.5 281 C214 286 193 277 180.5 255.5"/>
  <path d="M181.6 265.6 L180 254.7 L195 257.8"/>
  <path d="M458 277.3 C480 287 500 278 513 258.5"/>
  <path d="M500.4 260.3 L513.4 258 L511 268.2"/>
  <path d="M307.3 400 C308 422 292 436 263.5 439.5"/>
  <path d="M270.8 432.4 L263 439.6 L270.8 444.2"/>
  <path d="M393 400 C393 422 408 434 429 442.5"/>
  <path d="M419 444.3 L429.6 442.7 L425 432"/>
</g>
<!-- ===== url ===== -->
<g font-family="Liberation Sans, sans-serif" fill="#3f5ea0" stroke="#3f5ea0" stroke-width="0.35" font-size="26" letter-spacing="1.6">
  <text transform="translate(260.3 521) scale(0.597 1)" vector-effect="non-scaling-stroke">www.hdsa.org/disability</text>
</g>
<rect x="260" y="523.6" width="183" height="1.3" fill="#3f5ea0"/>

</svg>
</body></html>
